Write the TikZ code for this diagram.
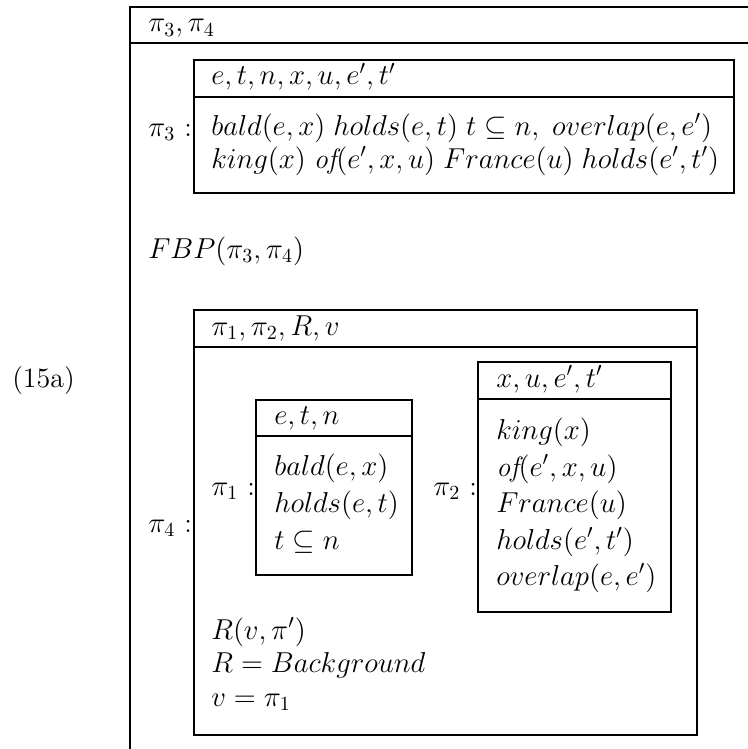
\documentclass[tikz,border=0pt]{standalone}
\begin{document}
\begin{tikzpicture}[x=0.5pt,y=-0.5pt,line width=1.3pt,
  txt/.style={anchor=base west,inner sep=0pt,font=\fontsize{14}{17}\selectfont}]
\useasboundingbox (0,0) rectangle (748,749);

% outer DRS (open to the right and below)
\draw (748,7) -- (130,7) -- (130,749);
\draw (130,43) -- (748,43);

% pi_3 box
\draw (194,60) rectangle (734,193);
\draw (194,97) -- (734,97);

% pi_4 box
\draw (194,310) rectangle (697,735);
\draw (194,347) -- (697,347);

% pi_1 box
\draw (256,400) rectangle (412,575);
\draw (256,436) -- (412,436);

% pi_2 box
\draw (478,362) rectangle (671,612);
\draw (478,399) -- (671,399);

% example number
\node[txt] (num) at (11,387) {(15a)};

% outer universe and conditions
\node[txt] (univ0) at (147,32) {$\pi_3,\pi_4$};
\node[txt] (lab3) at (147,136) {$\pi_3$ :};
\node[txt] (univ3) at (210,85) {$e,t,n,x,u,e',t'$};
\node[txt] (c3a) at (210,135) {$bald(e,x)\; holds(e,t)\; t\subseteq n,\; overlap(e,e')$};
\node[txt] (c3b) at (210,168) {$king(x)\; \textit{of}(e',x,u)\; France(u)\; holds(e',t')$};
\node[txt] (fbp) at (147,258) {$FBP(\pi_3,\pi_4)$};
\node[txt] (lab4) at (147,532) {$\pi_4$ :};

% pi_4 contents
\node[txt] (univ4) at (210,335) {$\pi_1,\pi_2,R,v$};
\node[txt] (lab1) at (210,495) {$\pi_1$ :};
\node[txt] (univ1) at (273,424) {$e,t,n$};
\node[txt] (c1a) at (273,475) {$bald(e,x)$};
\node[txt] (c1b) at (273,512) {$holds(e,t)$};
\node[txt] (c1c) at (273,549) {$t\subseteq n$};

\node[txt] (lab2) at (432,495) {$\pi_2$ :};
\node[txt] (univ2) at (495,387) {$x,u,e',t'$};
\node[txt] (c2a) at (495,439) {$king(x)$};
\node[txt] (c2b) at (495,476) {$\textit{of}(e',x,u)$};
\node[txt] (c2c) at (495,512) {$France(u)$};
\node[txt] (c2d) at (495,549) {$holds(e',t')$};
\node[txt] (c2e) at (495,585) {$overlap(e,e')$};

\node[txt] (c4a) at (210,639) {$R(v,\pi')$};
\node[txt] (c4b) at (210,672) {$R=Background$};
\node[txt] (c4c) at (210,706) {$v=\pi_1$};
\end{tikzpicture}
\end{document}
